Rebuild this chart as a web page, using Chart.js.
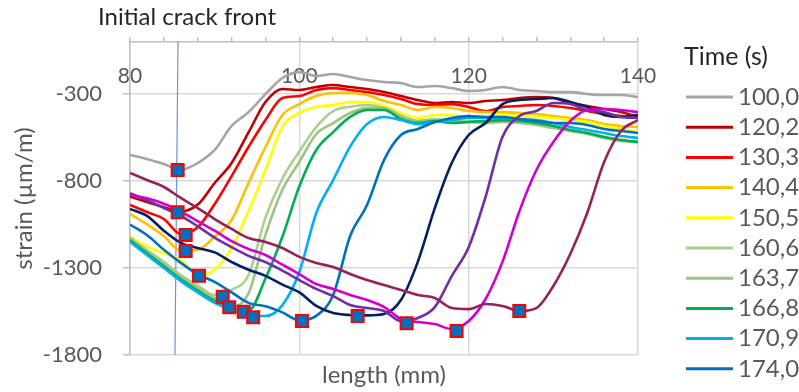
<!DOCTYPE html>
<html>
<head>
<meta charset="utf-8">
<script src="https://cdn.jsdelivr.net/npm/chart.js@4.4.1/dist/chart.umd.min.js"></script>
<style>
  html, body { margin: 0; padding: 0; background: #ffffff; }
</style>
</head>
<body>
<canvas id="chart" width="799" height="392"></canvas>
<script>
// position along the specimen (mm)
const lengths = [80, 82, 84, 86, 88, 90, 92, 94, 96, 98, 100, 102, 104, 106, 108, 110,
  112, 114, 116, 118, 120, 122, 124, 126, 128, 130, 132, 134, 136, 138, 140];

const times = ["100,0", "120,2", "130,3", "140,4", "150,5", "160,6", "163,7", "166,8",
  "170,9", "174,0", "177,1", "180,2", "183,3", "186,3"];
const colors = ["#A5A5A5", "#C00000", "#FF0000", "#FFC000", "#FFFF00", "#A9D08E", "#9DC285",
  "#00B050", "#00B0F0", "#0070C0", "#002060", "#7030A0", "#D000D0", "#99215A"];

// strain (µm/m) per time step
const s100 = [-650, -673, -702, -735, -696, -621, -483, -403, -300, -207, -173, -196, -184, -201, -219, -230,
  -236, -259, -253, -265, -282, -276, -259, -276, -282, -288, -288, -299, -305, -305, -316];
const s120 = [-890, -920, -950, -975, -935, -811, -696, -520, -345, -270, -276, -259, -247, -259, -270, -288,
  -311, -334, -351, -345, -351, -339, -334, -322, -316, -322, -351, -368, -385, -403, -431];
const s130 = [-937, -978, -1018, -1105, -1065, -932, -771, -604, -449, -322, -311, -276, -265, -276, -288, -305,
  -328, -357, -362, -357, -374, -397, -374, -368, -362, -368, -380, -397, -414, -426, -437];
const s140 = [-989, -1047, -1116, -1200, -1195, -1120, -1024, -810, -604, -420, -357, -311, -293, -293, -305, -339,
  -362, -391, -374, -380, -397, -403, -403, -408, -414, -426, -437, -449, -472, -483, -489];
const s150 = [-1120, -1175, -1215, -1255, -1340, -1310, -1185, -972, -736, -487, -408, -374, -362, -345, -345, -368,
  -408, -437, -420, -420, -437, -431, -420, -426, -431, -437, -449, -460, -483, -500, -518];
const s160 = [-1125, -1195, -1265, -1340, -1400, -1455, -1425, -1340, -1010, -785, -630, -489, -397, -372, -362, -380,
  -426, -454, -443, -454, -454, -460, -454, -460, -472, -489, -506, -523, -546, -564, -575];
const s163 = [-1130, -1205, -1275, -1350, -1415, -1475, -1520, -1445, -1110, -850, -690, -529, -466, -408, -380, -380,
  -426, -454, -449, -460, -460, -466, -460, -466, -477, -495, -512, -529, -552, -569, -575];
const s166 = [-1140, -1215, -1290, -1365, -1430, -1490, -1530, -1545, -1360, -1120, -830, -621, -518, -431, -391, -391,
  -443, -466, -454, -466, -460, -454, -449, -454, -466, -483, -506, -523, -546, -564, -575];
const s170 = [-1150, -1225, -1300, -1375, -1440, -1500, -1540, -1575, -1576, -1513, -1323, -983, -794, -602, -472, -431,
  -449, -472, -460, -449, -437, -437, -437, -443, -449, -466, -489, -506, -523, -541, -552];
const s174 = [-1050, -1110, -1195, -1270, -1335, -1380, -1440, -1500, -1520, -1555, -1600, -1575, -1455, -1116, -937, -679,
  -535, -500, -460, -437, -426, -431, -431, -443, -454, -466, -466, -477, -500, -512, -523];
const s177 = [-960, -1000, -1085, -1155, -1185, -1210, -1265, -1310, -1345, -1395, -1440, -1518, -1559, -1570, -1572, -1564,
  -1484, -1263, -955, -696, -535, -466, -357, -334, -328, -322, -345, -374, -420, -431, -420];
const s180 = [-870, -910, -955, -1000, -1060, -1125, -1180, -1230, -1265, -1315, -1369, -1420, -1461, -1513, -1530, -1547,
  -1605, -1587, -1525, -1346, -1180, -890, -545, -426, -397, -351, -357, -391, -403, -431, -437];
const s183 = [-880, -899, -930, -975, -1030, -1085, -1145, -1190, -1225, -1280, -1335, -1392, -1420, -1455, -1484, -1524,
  -1593, -1610, -1622, -1651, -1605, -1478, -1263, -972, -736, -575, -454, -391, -385, -391, -403];
const s186 = [-753, -794, -834, -897, -955, -1018, -1075, -1127, -1150, -1185, -1236, -1271, -1294, -1334, -1369, -1398,
  -1426, -1455, -1472, -1530, -1536, -1507, -1518, -1547, -1530, -1403, -1219, -983, -690, -512, -449];
const series = [s100, s120, s130, s140, s150, s160, s163, s166, s170, s174, s177, s180, s183, s186];

// minimum of each curve (crack tip)
const tipX = [85.63, 85.63, 86.57, 86.57, 88.15, 90.95, 91.72, 93.43, 94.55, 100.31, 106.89, 112.67, 118.57, 125.98];
const tipY = [-736, -979, -1110, -1202, -1344, -1465, -1526, -1551, -1583, -1605, -1576, -1618, -1662, -1547];

// initial crack front line
const crackX = [85.67, 85.31];
const crackY = [0, -1800];

const yTicks = [-1800, -1300, -800, -300];

const FONT = 'Lato, "Open Sans", sans-serif';
Chart.defaults.font.family = FONT;
Chart.defaults.font.size = 21;

const datasets = series.map((vals, i) => ({
  label: times[i],
  data: lengths.map((x, j) => ({ x: x, y: vals[j] })),
  borderColor: colors[i],
  backgroundColor: colors[i],
  borderWidth: 2.6,
  pointRadius: 0,
  showLine: true,
  cubicInterpolationMode: 'monotone',
  order: 20 - i,
  inLegend: true
}));

datasets.push({
  label: 'crack tip',
  data: tipX.map((x, i) => ({ x: x, y: tipY[i] })),
  showLine: false,
  pointStyle: 'rect',
  pointRadius: 8.5,
  pointBackgroundColor: '#0070C0',
  pointBorderColor: '#FF0000',
  pointBorderWidth: 2,
  order: 0
});

datasets.push({
  label: 'Initial crack front',
  data: crackX.map((x, i) => ({ x: x, y: crackY[i] })),
  showLine: true,
  borderColor: '#6F93D6',
  borderWidth: 1.2,
  pointRadius: 0,
  order: 30
});

// legend drawn at the right; entries below the canvas edge are cut off like the original
const sideLegend = {
  id: 'sideLegend',
  afterDraw(chart) {
    const ctx = chart.ctx;
    ctx.save();
    ctx.textBaseline = 'middle';
    ctx.fillStyle = '#262626';
    ctx.font = '25px ' + FONT;
    ctx.fillText('Time (s)', 684, 57);
    ctx.font = '24px ' + FONT;
    chart.data.datasets.filter(d => d.inLegend).forEach((d, i) => {
      const y = 97 + i * 30.2;
      if (y > chart.height - 10) return;
      ctx.strokeStyle = d.borderColor;
      ctx.lineWidth = 3;
      ctx.beginPath();
      ctx.moveTo(686, y);
      ctx.lineTo(733, y);
      ctx.stroke();
      ctx.fillStyle = '#595959';
      ctx.fillText(d.label, 738, y);
    });
    // note above the crack front line
    const xs = chart.scales.x;
    ctx.font = '24px ' + FONT;
    ctx.fillStyle = '#262626';
    ctx.textAlign = 'center';
    ctx.fillText('Initial crack front', xs.getPixelForValue(crackX[0]) + 9, 17);
    ctx.restore();
  }
};

new Chart(document.getElementById('chart'), {
  type: 'scatter',
  data: { datasets: datasets },
  options: {
    responsive: false,
    animation: false,
    events: [],
    layout: { padding: { left: 0, right: 161, top: 0, bottom: 0 } },
    plugins: {
      legend: { display: false },
      tooltip: { enabled: false }
    },
    scales: {
      x: {
        type: 'linear',
        position: 'top',
        min: 80,
        max: 140,
        afterFit(scale) { scale.height = 42; },
        ticks: {
          stepSize: 4,
          autoSkip: false,
          maxRotation: 0,
          mirror: true,   // labels sit inside the plot, under the top axis
          padding: 22,
          color: '#595959',
          callback: v => (v % 20 === 0 ? String(v) : '')
        },
        grid: {
          color: c => (c.tick && c.tick.value % 20 === 0 ? '#D9D9D9' : 'rgba(0,0,0,0)'),
          tickColor: '#BFBFBF',
          tickLength: 5,
          lineWidth: 1.5
        },
        border: { color: '#BFBFBF', width: 1.5 }
      },
      xb: {
        type: 'linear',
        position: 'bottom',
        min: 80,
        max: 140,
        afterFit(scale) { scale.height = 37; },
        ticks: { display: false },
        grid: { display: false },
        border: { display: false },
        title: {
          display: true,
          text: 'length (mm)',
          color: '#595959',
          font: { size: 24 },
          padding: { top: 0, bottom: 2 }
        }
      },
      y: {
        min: -1800,
        max: 0,
        afterBuildTicks(scale) { scale.ticks = yTicks.map(v => ({ value: v })); },
        afterFit(scale) { scale.width = 130; },
        ticks: { color: '#595959', padding: 21, font: { size: 22 }, callback: v => String(v) },
        grid: { color: '#D9D9D9', tickColor: '#BFBFBF', tickLength: 7, lineWidth: 1.5 },
        border: { color: '#BFBFBF', width: 1.5 },
        title: {
          display: true,
          text: 'strain (µm/m)',
          color: '#595959',
          font: { size: 24 },
          padding: { top: 10, bottom: 0 }
        }
      }
    }
  },
  plugins: [sideLegend]
});
</script>
</body>
</html>
